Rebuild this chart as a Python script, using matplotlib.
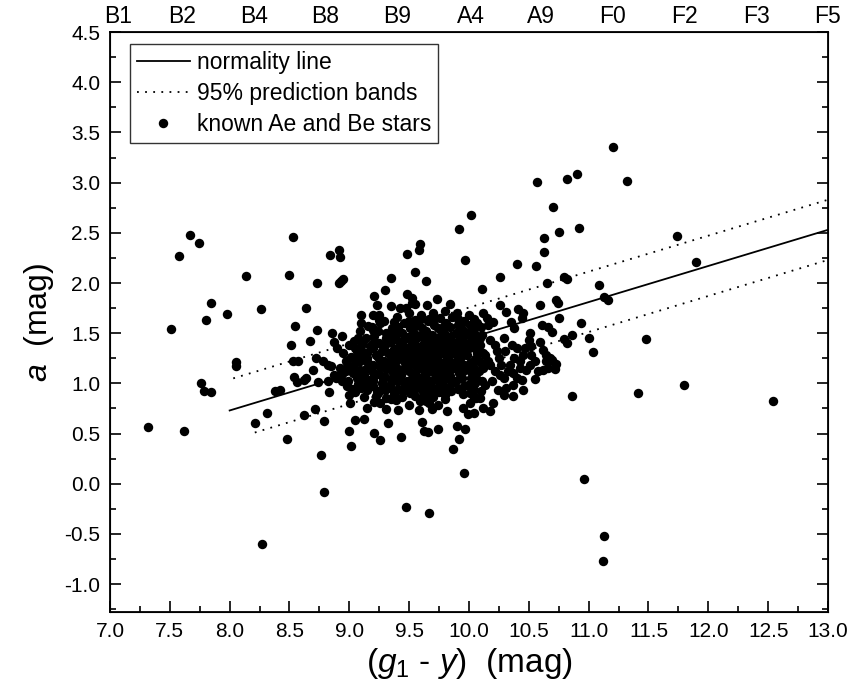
import numpy as np
import matplotlib
matplotlib.use("Agg")
import matplotlib.pyplot as plt
from matplotlib.ticker import MultipleLocator

plt.rcParams['font.family'] = ['Liberation Sans', 'DejaVu Sans']
plt.rcParams['mathtext.fontset'] = 'custom'
plt.rcParams['mathtext.rm'] = 'Liberation Sans'
plt.rcParams['mathtext.it'] = 'Liberation Sans:italic'

# ---------------------------------------------------------------- data
# scattered stars
outer_stars = [
    (7.315, 0.563), (7.51, 1.54), (7.58, 2.27), (7.67, 2.48), (7.74, 2.40),
    (7.62, 0.53), (7.84, 1.80), (7.80, 1.63), (7.76, 1.00), (7.785, 0.92),
    (7.84, 0.91), (7.975, 1.69), (8.05, 1.21), (8.05, 1.17), (8.14, 2.07),
    (8.26, 1.74), (8.21, 0.61), (8.31, 0.70), (8.27, -0.60), (8.38, 0.92),
    (8.42, 0.93), (8.50, 2.08), (8.53, 2.46), (8.51, 1.38), (8.55, 1.57),
    (8.53, 1.22), (8.57, 1.22), (8.535, 1.06), (8.565, 1.01), (8.48, 0.45),
    (8.62, 1.03), (8.635, 1.05), (8.64, 1.75), (8.62, 0.68), (8.67, 1.42),
    (8.72, 1.25), (8.70, 1.13), (8.73, 2.00), (8.73, 1.53), (8.74, 1.01),
    (8.71, 0.74), (8.76, 0.29), (8.79, 0.63), (8.79, -0.08), (8.78, 1.22),
    (8.82, 1.18), (8.85, 1.17), (8.82, 1.02), (8.83, 0.91), (8.84, 2.28),
    (8.855, 1.50), (8.87, 1.41), (8.90, 1.35), (8.89, 1.05), (8.91, 2.33),
    (8.92, 2.26), (8.91, 2.00), (8.95, 2.04), (8.93, 2.02), (8.94, 1.47),
    (8.935, 1.02), (8.90, 1.07), (8.87, 1.08), (9.07, 1.45), (9.05, 1.35),
    (9.06, 1.32), (9.11, 1.28), (9.20, 1.53), (9.21, 1.47), (9.31, 1.50),
    (9.38, 1.48), (9.09, 1.22), (9.145, 1.25), (9.20, 1.18), (9.26, 1.23),
    (9.31, 1.18), (9.38, 1.23), (8.92, 1.15), (8.96, 1.12), (9.03, 1.10),
    (9.06, 1.05), (9.12, 1.08), (8.99, 1.02), (9.145, 1.00), (9.20, 1.02),
    (9.28, 1.05), (9.34, 0.98), (9.40, 1.02), (9.23, 0.92), (9.30, 0.93),
    (9.37, 0.88), (9.21, 0.81), (9.31, 0.74), (9.005, 0.80), (9.05, 0.64),
    (9.12, 0.65), (9.00, 0.53), (9.01, 0.38), (9.21, 0.51), (9.26, 0.44),
    (9.32, 0.61), (9.43, 0.47), (9.41, 0.73), (9.585, 0.73), (9.61, 0.62),
    (9.62, 0.53), (9.655, 0.52), (9.74, 0.55), (9.82, 0.72), (9.90, 0.58),
    (9.92, 0.45), (9.87, 0.35), (9.97, 0.55), (9.145, 0.75), (9.345, 0.84),
    (9.59, 0.82), (9.67, 0.80), (9.80, 0.84), (9.95, 0.75), (10.01, 0.80),
    (10.06, 0.85), (9.99, 0.69), (9.96, 0.11), (9.47, -0.23), (9.67, -0.29),
    (10.96, 0.05), (11.13, -0.52), (11.12, -0.77),
    (10.02, 2.68), (9.92, 2.54), (9.97, 2.23), (9.59, 2.39), (9.58, 2.33),
    (9.48, 2.29), (9.55, 2.11), (9.35, 2.05), (9.64, 2.02), (9.30, 1.93),
    (9.21, 1.87), (9.48, 1.89), (9.52, 1.85), (9.52, 1.80), (9.23, 1.78),
    (9.35, 1.77), (9.42, 1.75), (9.47, 1.75), (9.55, 1.79), (9.65, 1.78),
    (9.73, 1.84), (9.84, 1.79), (9.10, 1.68), (9.10, 1.60), (9.20, 1.68),
    (9.25, 1.68), (9.25, 1.63), (9.37, 1.61), (9.50, 1.62), (9.55, 1.63),
    (9.60, 1.64), (9.67, 1.64), (9.72, 1.65), (9.79, 1.57), (9.91, 1.64),
    (10.04, 1.64), (11.20, 3.36), (11.32, 3.02), (10.57, 3.01), (10.82, 3.04),
    (10.905, 3.09), (10.70, 2.76), (10.75, 2.51), (10.92, 2.55), (10.63, 2.45),
    (10.63, 2.31), (10.40, 2.19), (10.56, 2.17), (10.26, 2.06), (10.11, 1.94),
    (10.65, 2.00), (10.79, 2.06), (10.82, 2.04), (11.09, 1.98), (11.13, 1.86),
    (11.165, 1.83), (10.59, 1.78), (10.73, 1.83), (10.74, 1.80), (10.75, 1.65),
    (10.94, 1.60), (11.00, 1.45), (11.04, 1.31), (10.86, 1.48), (10.82, 1.40),
    (10.79, 1.44), (10.86, 0.87), (10.26, 1.78), (10.31, 1.71), (10.41, 1.74),
    (10.45, 1.70), (10.35, 1.61), (10.38, 1.55), (10.44, 1.65), (10.61, 1.58),
    (10.66, 1.56), (10.69, 1.51), (10.59, 1.41), (10.73, 1.19), (10.72, 1.14),
    (10.66, 1.15), (10.64, 1.22), (10.58, 1.12), (10.55, 1.04), (10.45, 0.93),
    (10.37, 0.87), (10.29, 0.88), (10.175, 0.72), (10.12, 0.75), (10.20, 0.80),
    (10.51, 1.50), (10.50, 1.43), (10.52, 1.37), (10.47, 1.35), (10.45, 1.28),
    (10.52, 1.28), (10.55, 1.22), (10.51, 1.18), (10.48, 1.13), (10.43, 1.15),
    (10.40, 1.05), (10.44, 1.03), (10.37, 0.98), (10.31, 0.95), (10.245, 0.93),
    (10.29, 1.05), (10.34, 1.18), (10.40, 1.35), (10.30, 1.32), (10.25, 1.25),
    (10.22, 1.38), (10.175, 1.43), (10.29, 1.45), (10.36, 1.38), (10.15, 1.65),
    (10.16, 1.58), (10.20, 1.61), (10.12, 1.70), (10.07, 1.60), (10.04, 1.55),
    (10.09, 1.45), (10.05, 1.35), (10.08, 1.22), (10.12, 1.15), (10.06, 1.05),
    (10.13, 0.98), (10.04, 0.85), (10.09, 0.85), (10.04, 0.70), (10.175, 1.18),
    (10.22, 1.12), (10.19, 1.02), (10.26, 1.08), (10.16, 1.22), (10.13, 1.28),
    (10.23, 1.32), (10.27, 1.18), (10.33, 1.12), (10.37, 1.10), (10.38, 1.25),
    (10.43, 1.22), (10.62, 1.33), (10.66, 1.22), (10.68, 1.25), (10.64, 1.28),
    (10.69, 1.23), (10.62, 1.13), (11.74, 2.47), (11.90, 2.21), (11.48, 1.44),
    (11.41, 0.90), (11.80, 0.98), (12.54, 0.82),
]

# dense core of the cloud (estimated)
core_stars = [
    (8.95, 1.30), (8.97, 1.22), (8.94, 1.09), (8.98, 0.97), (9.00, 1.38),
    (9.01, 1.26), (8.99, 1.17), (9.02, 0.94), (9.00, 0.88),
    (9.04, 1.42), (9.06, 1.27), (9.05, 1.20), (9.03, 1.15), (9.07, 0.99), (9.05, 0.91),
    (9.09, 1.52), (9.11, 1.39), (9.10, 1.33), (9.12, 1.24), (9.09, 1.13),
    (9.11, 1.04), (9.10, 0.95), (9.12, 0.86),
    (9.16, 1.57), (9.14, 1.45), (9.17, 1.37), (9.15, 1.30), (9.16, 1.20),
    (9.14, 1.14), (9.17, 1.03), (9.15, 0.93),
    (9.19, 1.56), (9.21, 1.41), (9.20, 1.35), (9.22, 1.28), (9.19, 1.12),
    (9.21, 1.07), (9.20, 0.97), (9.22, 0.87),
    (9.26, 1.60), (9.24, 1.52), (9.25, 1.40), (9.27, 1.32), (9.24, 1.26),
    (9.26, 1.16), (9.25, 1.09), (9.27, 1.00), (9.24, 0.90), (9.26, 0.80),
    (9.29, 1.62), (9.31, 1.45), (9.30, 1.38), (9.32, 1.30), (9.29, 1.22),
    (9.31, 1.14), (9.30, 1.06), (9.28, 0.97), (9.31, 0.85),
    (9.36, 1.55), (9.34, 1.48), (9.35, 1.41), (9.37, 1.34), (9.35, 1.27),
    (9.33, 1.20), (9.36, 1.12), (9.35, 1.04), (9.34, 0.95), (9.37, 0.89),
    (9.40, 1.66), (9.41, 1.56), (9.39, 1.44), (9.42, 1.38), (9.40, 1.30),
    (9.41, 1.24), (9.39, 1.16), (9.42, 1.10), (9.40, 1.03), (9.41, 0.94), (9.39, 0.83),
    (9.46, 1.60), (9.44, 1.50), (9.45, 1.42), (9.47, 1.35), (9.44, 1.28),
    (9.46, 1.22), (9.45, 1.14), (9.43, 1.08), (9.46, 1.00), (9.45, 0.92), (9.44, 0.86),
    (9.50, 1.70), (9.51, 1.55), (9.49, 1.46), (9.52, 1.40), (9.50, 1.33),
    (9.48, 1.26), (9.51, 1.19), (9.50, 1.12), (9.52, 1.05), (9.49, 0.97),
    (9.51, 0.90), (9.50, 0.78),
    (9.56, 1.58), (9.54, 1.50), (9.55, 1.43), (9.57, 1.36), (9.55, 1.30),
    (9.53, 1.24), (9.56, 1.17), (9.55, 1.10), (9.54, 1.02), (9.56, 0.95), (9.55, 0.87),
    (9.60, 1.68), (9.61, 1.55), (9.59, 1.47), (9.62, 1.40), (9.60, 1.34),
    (9.58, 1.28), (9.61, 1.21), (9.60, 1.15), (9.62, 1.08), (9.59, 1.00),
    (9.61, 0.93), (9.60, 0.85),
    (9.66, 1.62), (9.64, 1.52), (9.65, 1.45), (9.67, 1.38), (9.65, 1.31),
    (9.63, 1.25), (9.66, 1.19), (9.65, 1.12), (9.64, 1.05), (9.66, 0.98),
    (9.65, 0.90), (9.64, 0.82),
    (9.70, 1.70), (9.71, 1.58), (9.69, 1.48), (9.72, 1.42), (9.70, 1.36),
    (9.68, 1.29), (9.71, 1.22), (9.70, 1.16), (9.72, 1.09), (9.69, 1.02),
    (9.71, 0.94), (9.70, 0.86), (9.69, 0.74),
    (9.76, 1.65), (9.74, 1.55), (9.75, 1.46), (9.77, 1.39), (9.75, 1.32),
    (9.73, 1.26), (9.76, 1.20), (9.75, 1.13), (9.74, 1.06), (9.76, 0.99),
    (9.75, 0.91), (9.74, 0.78),
    (9.80, 1.72), (9.81, 1.60), (9.79, 1.50), (9.82, 1.43), (9.80, 1.37),
    (9.78, 1.30), (9.81, 1.23), (9.80, 1.17), (9.82, 1.10), (9.79, 1.03),
    (9.81, 0.95), (9.80, 0.88),
    (9.86, 1.66), (9.84, 1.56), (9.85, 1.47), (9.87, 1.40), (9.85, 1.33),
    (9.83, 1.27), (9.86, 1.20), (9.85, 1.14), (9.84, 1.07), (9.86, 1.00), (9.85, 0.92),
    (9.90, 1.70), (9.91, 1.58), (9.89, 1.50), (9.92, 1.43), (9.90, 1.36),
    (9.88, 1.30), (9.91, 1.24), (9.90, 1.17), (9.92, 1.10), (9.89, 1.02), (9.91, 0.94),
    (9.96, 1.62), (9.94, 1.54), (9.95, 1.46), (9.97, 1.39), (9.95, 1.33),
    (9.93, 1.26), (9.96, 1.18), (9.95, 1.12), (9.94, 1.05), (9.96, 0.97), (9.95, 0.89),
    (10.00, 1.68), (10.01, 1.58), (9.99, 1.50), (10.02, 1.42), (10.00, 1.35),
    (9.98, 1.28), (10.01, 1.20), (10.00, 1.13), (10.02, 1.05), (9.99, 0.98), (10.01, 0.90),
    (10.06, 1.60), (10.04, 1.50), (10.05, 1.42), (10.07, 1.30), (10.05, 1.24),
    (10.03, 1.16), (10.06, 1.10), (10.05, 1.00), (10.04, 0.93),
    (10.10, 1.56), (10.11, 1.48), (10.09, 1.38), (10.12, 1.30), (10.10, 1.20),
    (10.08, 1.12), (10.11, 1.02), (10.10, 0.92),
    # extra fill in the densest part
    (9.47, 1.18), (9.53, 1.33), (9.58, 1.05), (9.63, 1.42), (9.68, 1.12),
    (9.73, 1.35), (9.78, 1.08), (9.83, 1.22), (9.43, 1.32), (9.38, 1.07),
    (9.58, 1.20), (9.68, 1.26), (9.78, 1.44), (9.88, 1.15), (9.48, 1.02),
]

# normality line and 95% prediction bands (end points)
line_x = [8.0, 13.0]
line_y = [0.73, 2.53]
upper_x = [8.03, 13.0]
upper_y = [1.05, 2.83]
lower_x = [8.21, 13.0]
lower_y = [0.51, 2.23]

# spectral types on the top axis
sp_pos = [7.07, 7.6, 8.2, 8.8, 9.4, 10.02, 10.6, 11.2, 11.8, 12.4, 13.0]
sp_labels = ['B1', 'B2', 'B4', 'B8', 'B9', 'A4', 'A9', 'F0', 'F2', 'F3', 'F5']

# ---------------------------------------------------------------- plot
x_stars, y_stars = zip(*(outer_stars + core_stars))

fig = plt.figure(figsize=(8.5, 6.84), dpi=100)
ax = fig.add_axes([0.1294, 0.105, 0.8447, 0.848])

dots = (0, (1, 3.5))
ax.plot(line_x, line_y, color='black', lw=1.3, label='normality line')
ax.plot(upper_x, upper_y, color='black', lw=1.3, ls=dots,
        label='95% prediction bands')
ax.plot(lower_x, lower_y, color='black', lw=1.3, ls=dots)
ax.plot(x_stars, y_stars, 'o', color='black', ms=6.8, mew=0,
        label='known Ae and Be stars')

ax.set_xlim(7.0, 13.0)
ax.set_ylim(-1.28, 4.5)
ax.xaxis.set_major_locator(MultipleLocator(0.5))
ax.xaxis.set_minor_locator(MultipleLocator(0.25))
ax.yaxis.set_major_locator(MultipleLocator(0.5))
ax.yaxis.set_minor_locator(MultipleLocator(0.25))
ax.xaxis.set_major_formatter(plt.FormatStrFormatter('%.1f'))
ax.yaxis.set_major_formatter(plt.FormatStrFormatter('%.1f'))
ax.tick_params(which='both', direction='in', top=True, right=True,
               width=1.2, labelsize=15, pad=7)
ax.tick_params(which='major', length=8)
ax.tick_params(which='minor', length=4)
for sp in ax.spines.values():
    sp.set_linewidth(1.3)

ax.set_xlabel(r'$(g_1$ - $y)$  (mag)', fontsize=24, labelpad=4)
ax.set_ylabel(r'$a$  (mag)', fontsize=23, labelpad=6)

# top axis with spectral types
top = ax.twiny()
top.set_xlim(ax.get_xlim())
top.set_xticks(sp_pos)
top.set_xticklabels(sp_labels)
top.tick_params(axis='x', length=0, labelsize=16.5, pad=3)

leg = ax.legend(loc='upper left', bbox_to_anchor=(0.028, 0.98), fontsize=16.5,
                frameon=True, fancybox=False, handlelength=2.3,
                handletextpad=0.3, borderpad=0.3, labelspacing=0.35,
                borderaxespad=0)
leg.get_frame().set_edgecolor('black')
leg.get_frame().set_linewidth(1.0)

fig.savefig('out.png', dpi=100)
